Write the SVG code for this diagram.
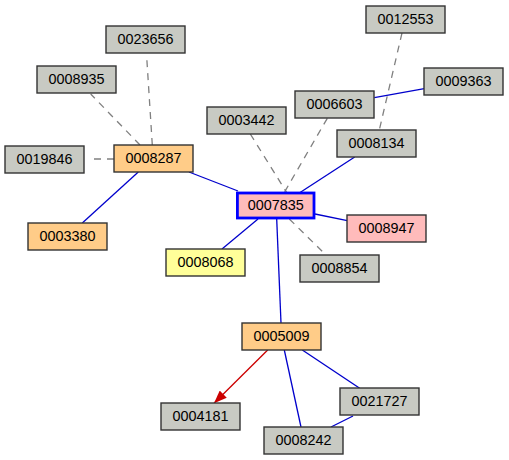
<svg xmlns="http://www.w3.org/2000/svg" width="509" height="460" viewBox="0 0 509 460">
<defs>
<style>
.n rect{stroke:#333;stroke-width:1.4}
.g rect{fill:#c8cac3}
.o rect{fill:#ffcc88}
.p rect{fill:#ffbbbb}
.y rect{fill:#ffff99}
.c rect{stroke:#0000ff;stroke-width:2.8}
text{font-family:"Liberation Sans",Arial,sans-serif;font-size:14.4px;fill:#000;text-anchor:middle}
.e line{fill:none}
.d{stroke:#808080;stroke-width:1.3;stroke-dasharray:7,6}
.b{stroke:#0000cc;stroke-width:1.3}
.r{stroke:#cc0000;stroke-width:1.3}
</style>
<marker id="ar" markerUnits="userSpaceOnUse" markerWidth="13" markerHeight="10" refX="13" refY="5" orient="auto">
<path d="M0,0 L13,5 L0,10 z" fill="#cc0000"/>
</marker>
</defs>
<rect width="509" height="460" fill="#fff"/>
<g id="edges" class="e">
<line class="d" x1="152.3" y1="145" x2="146.7" y2="57"/>
<line class="d" x1="140" y1="145" x2="90.7" y2="94"/>
<line class="d" x1="114" y1="159" x2="89" y2="159"/>
<line class="b" x1="138.3" y1="172" x2="82.3" y2="223"/>
<line class="b" x1="189" y1="172" x2="238" y2="191"/>
<line class="b" x1="258" y1="219" x2="222" y2="249"/>
<line class="d" x1="250.3" y1="134" x2="287" y2="193"/>
<line class="d" x1="327.3" y1="118.3" x2="284" y2="193"/>
<line class="d" x1="402" y1="33" x2="379.3" y2="130"/>
<line class="b" x1="374.3" y1="97.7" x2="424.3" y2="88.7"/>
<line class="b" x1="354.7" y1="157" x2="299.3" y2="193"/>
<line class="b" x1="315" y1="214" x2="347.3" y2="220.7"/>
<line class="d" x1="289.3" y1="219" x2="326" y2="255"/>
<line class="b" x1="276.7" y1="219" x2="281" y2="323"/>
<line class="r" x1="267.7" y1="350" x2="214" y2="403.3" marker-end="url(#ar)"/>
<line class="b" x1="284.3" y1="350" x2="301" y2="427"/>
<line class="b" x1="302.3" y1="350" x2="359.7" y2="388.3"/>
<line class="b" x1="353" y1="416" x2="331" y2="427"/>
</g>
<g id="n0023656" class="n g"><rect x="106" y="26" width="79" height="27"/><text x="145.5" y="44">0023656</text></g>
<g id="n0008935" class="n g"><rect x="37" y="66" width="79" height="27"/><text x="76.5" y="84">0008935</text></g>
<g id="n0019846" class="n g"><rect x="5" y="146" width="79" height="27"/><text x="44.5" y="164">0019846</text></g>
<g id="n0008287" class="n o"><rect x="114" y="145" width="79" height="27"/><text x="153.5" y="163">0008287</text></g>
<g id="n0003380" class="n o"><rect x="28" y="223" width="79" height="27"/><text x="67.5" y="241">0003380</text></g>
<g id="n0003442" class="n g"><rect x="207" y="107" width="79" height="27"/><text x="246.5" y="125">0003442</text></g>
<g id="n0012553" class="n g"><rect x="366" y="6" width="79" height="27"/><text x="405.5" y="24">0012553</text></g>
<g id="n0009363" class="n g"><rect x="424" y="68" width="79" height="27"/><text x="463.5" y="86">0009363</text></g>
<g id="n0006603" class="n g"><rect x="295" y="91" width="79" height="27"/><text x="334.5" y="109">0006603</text></g>
<g id="n0008134" class="n g"><rect x="337" y="130" width="79" height="27"/><text x="376.5" y="148">0008134</text></g>
<g id="n0007835" class="n p c"><rect x="237.4" y="193" width="76.6" height="25"/><text x="275.7" y="210">0007835</text></g>
<g id="n0008947" class="n p"><rect x="347" y="215" width="79" height="27"/><text x="386.5" y="233">0008947</text></g>
<g id="n0008068" class="n y"><rect x="166" y="249" width="79" height="27"/><text x="205.5" y="267">0008068</text></g>
<g id="n0008854" class="n g"><rect x="300" y="255" width="79" height="27"/><text x="339.5" y="273">0008854</text></g>
<g id="n0005009" class="n o"><rect x="242" y="323" width="79" height="27"/><text x="281.5" y="341">0005009</text></g>
<g id="n0004181" class="n g"><rect x="161" y="403" width="79" height="27"/><text x="200.5" y="421">0004181</text></g>
<g id="n0021727" class="n g"><rect x="340" y="388" width="79" height="27"/><text x="379.5" y="406">0021727</text></g>
<g id="n0008242" class="n g"><rect x="264" y="427" width="79" height="27"/><text x="303.5" y="445">0008242</text></g>
</svg>
